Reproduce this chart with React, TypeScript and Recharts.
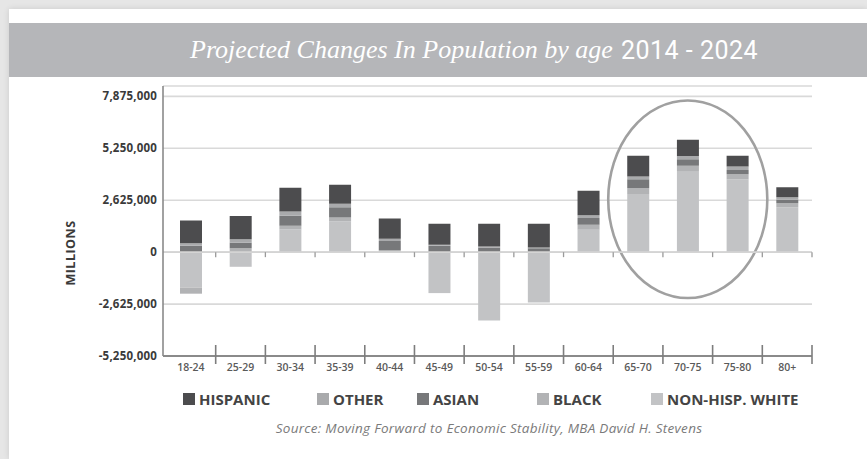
import React from 'react';
import { BarChart, Bar, XAxis, YAxis, CartesianGrid, ReferenceLine, ReferenceArea } from 'recharts';

// ---------- data ----------
const categories = ['18-24', '25-29', '30-34', '35-39', '40-44', '45-49', '50-54', '55-59', '60-64', '65-70', '70-75', '75-80', '80+'];
const hispanic = [1150000, 1180000, 1210000, 960000, 1020000, 1050000, 1140000, 1200000, 1230000, 1050000, 820000, 540000, 510000];
const other = [120000, 180000, 210000, 180000, 120000, 60000, 50000, 40000, 140000, 140000, 160000, 180000, 120000];
const asian = [330000, 270000, 500000, 520000, 460000, 320000, 240000, 200000, 350000, 440000, 330000, 210000, 180000];
const black = [-300000, 200000, 200000, 200000, 50000, 0, 0, 0, 250000, 300000, 300000, 250000, 200000];
const nonHispWhite = [-1800000, -740000, 1140000, 1550000, 50000, -2070000, -3450000, -2550000, 1130000, 2940000, 4070000, 3690000, 2270000];

const yTicks = [-5250000, -2625000, 0, 2625000, 5250000, 7875000];
const yDomain: [number, number] = [-5250000, 8400000];

const highlightFrom = '65-70';
const highlightTo = '75-80';
const highlightTop = 7670000;
const highlightBottom = -2320000;

const TITLE_ITALIC = 'Projected Changes In Population by age';
const TITLE_YEARS = '2014 - 2024';
const SOURCE = 'Source: Moving Forward to Economic Stability, MBA David H. Stevens';
const Y_LABEL = 'MILLIONS';

// stacking order (bottom to top)
const series = [
  { key: 'white', name: 'NON-HISP. WHITE', color: '#c2c3c5', values: nonHispWhite },
  { key: 'black', name: 'BLACK', color: '#b2b3b5', values: black },
  { key: 'asian', name: 'ASIAN', color: '#77787a', values: asian },
  { key: 'other', name: 'OTHER', color: '#a9aaac', values: other },
  { key: 'hispanic', name: 'HISPANIC', color: '#4c4c4e', values: hispanic },
];
const legendOrder = ['hispanic', 'other', 'asian', 'black', 'white'];

const data = categories.map((c, i) => {
  const row: Record<string, any> = { cat: c };
  series.forEach((s) => (row[s.key] = s.values[i]));
  return row;
});

// ---------- layout ----------
const W = 867;
const H = 459;
const XPAD = 3;
const legendX = [183, 317, 417, 537, 651];

const fmt = (v: number) => v.toLocaleString('en-US');

const XTick = (props: any) => {
  const { x, y, payload, width, visibleTicksCount } = props;
  const bw = (width - XPAD) / visibleTicksCount;
  const bx = x + bw / 2;
  return (
    <g>
      <line x1={bx} x2={bx} y1={y - 11} y2={y + 8} stroke="#7d7d7d" strokeWidth={1.6} />
      <text
        x={x}
        y={y + 11}
        textAnchor="middle"
        dominantBaseline="central"
        fontFamily="'Open Sans', sans-serif"
        fontWeight={600}
        fontSize={10.5}
        fill="#5a5a5a"
      >
        {payload.value}
      </text>
    </g>
  );
};

const ZeroLine = (p: any) => {
  const { x1, x2, y1 } = p;
  const bw = (x2 - x1 - XPAD) / categories.length;
  const marks = categories.map((_, i) => x1 + XPAD + bw * (i + 1));
  return (
    <g>
      <line x1={x1} x2={x2} y1={y1} y2={y1} stroke="#d4d4d4" strokeWidth={1.6} />
      {marks.map((mx, i) => (
        <line key={i} x1={mx} x2={mx} y1={y1} y2={y1 + 5} stroke="#9a9a9a" strokeWidth={1.3} />
      ))}
    </g>
  );
};

const Ellipse = (p: any) => {
  const { x, y, width, height } = p;
  return (
    <ellipse
      cx={x + width / 2}
      cy={y + height / 2}
      rx={width / 2 + 5}
      ry={height / 2}
      fill="none"
      stroke="#a0a0a0"
      strokeWidth={2.6}
    />
  );
};

const YLabel = (p: any) => {
  const vb = p.viewBox || { x: 0, y: 0, width: 0, height: 0 };
  const cx = vb.x + 70;
  const cy = vb.y + vb.height / 2 + 32;
  return (
    <text
      x={cx}
      y={cy}
      transform={`rotate(-90 ${cx} ${cy})`}
      textAnchor="middle"
      dominantBaseline="central"
      fontFamily="'Open Sans', sans-serif"
      fontWeight={700}
      fontSize={12.5}
      fill="#3a3a3a"
      letterSpacing={0.5}
    >
      {Y_LABEL}
    </text>
  );
};

export default function App() {
  return (
    <div
      style={{
        position: 'absolute',
        left: 0,
        top: 0,
        width: W,
        height: H,
        overflow: 'hidden',
        background: '#e6e6e6',
      }}
    >
      <div
        style={{
          position: 'absolute',
          left: 9,
          top: 9,
          width: W - 9,
          height: H - 9,
          background: '#ffffff',
          boxShadow: '0 0 6px rgba(0,0,0,0.12)',
        }}
      />
      <div
        style={{
          position: 'absolute',
          left: 9,
          top: 23,
          width: W - 9,
          height: 54,
          background: '#b5b6b9',
        }}
      />
      <div
        style={{
          position: 'absolute',
          left: 190,
          top: 23,
          height: 54,
          display: 'flex',
          alignItems: 'center',
          color: '#ffffff',
          whiteSpace: 'nowrap',
        }}
      >
        <span style={{ fontFamily: "'Liberation Serif', serif", fontStyle: 'italic', fontSize: 26 }}>{TITLE_ITALIC}</span>
        <span style={{ fontFamily: "'Roboto', sans-serif", fontSize: 25, marginLeft: 8, letterSpacing: 0.5 }}>{TITLE_YEARS}</span>
      </div>

      <div style={{ position: 'absolute', left: 0, top: 0 }}>
        <BarChart
          width={W}
          height={H}
          data={data}
          stackOffset="sign"
          margin={{ top: 86, right: 55, bottom: 73, left: 0 }}
          barSize={22}
        >
          <CartesianGrid horizontal vertical={false} stroke="#d9d9d9" strokeWidth={1.6} />
          <XAxis
            dataKey="cat"
            height={30}
            padding={{ left: XPAD, right: 0 }}
            axisLine={{ stroke: '#8a8a8a', strokeWidth: 2 }}
            tickLine={false}
            tickSize={0}
            tickMargin={0}
            interval={0}
            tick={<XTick />}
          />
          <YAxis
            width={163}
            domain={yDomain}
            ticks={yTicks}
            type="number"
            allowDataOverflow
            axisLine={{ stroke: '#8a8a8a', strokeWidth: 1.6 }}
            tickLine={false}
            tickSize={0}
            tickMargin={6}
            tickFormatter={fmt}
            tick={{ fontFamily: "'Open Sans', sans-serif", fontWeight: 700, fontSize: 11.5, fill: '#3a3a3a', letterSpacing: 0.2 }}
            label={<YLabel />}
          />
          <ReferenceLine y={0} shape={<ZeroLine />} />
          {series.map((s) => (
            <Bar key={s.key} dataKey={s.key} name={s.name} stackId="a" fill={s.color} isAnimationActive={false} />
          ))}
          <ReferenceArea
            x1={highlightFrom}
            x2={highlightTo}
            y1={highlightBottom}
            y2={highlightTop}
            shape={<Ellipse />}
            ifOverflow="visible"
          />
        </BarChart>
      </div>

      {legendOrder.map((k, i) => {
        const s = series.find((q) => q.key === k)!;
        return (
          <div
            key={k}
            style={{
              position: 'absolute',
              left: legendX[i],
              top: 390,
              height: 18,
              display: 'flex',
              alignItems: 'center',
              whiteSpace: 'nowrap',
            }}
          >
            <span style={{ display: 'inline-block', width: 12, height: 12, background: s.color, marginRight: 4 }} />
            <span
              style={{
                fontFamily: "'Open Sans', sans-serif",
                fontWeight: 700,
                fontSize: 15,
                color: '#444',
              }}
            >
              {s.name}
            </span>
          </div>
        );
      })}

      <div
        style={{
          position: 'absolute',
          left: 0,
          width: 978,
          top: 419,
          textAlign: 'center',
          fontFamily: "'Open Sans', sans-serif",
          fontStyle: 'italic',
          fontSize: 13.5,
          letterSpacing: 0.3,
          color: '#7a7a7a',
          whiteSpace: 'nowrap',
        }}
      >
        {SOURCE}
      </div>
    </div>
  );
}
